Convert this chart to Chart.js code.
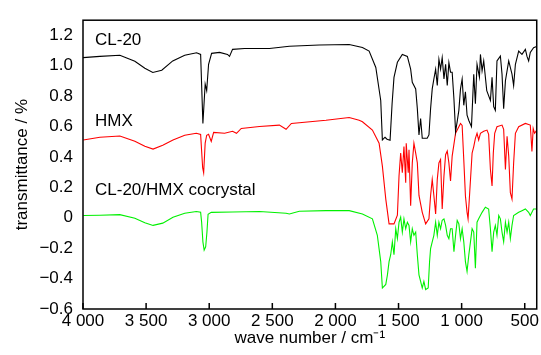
<!DOCTYPE html>
<html>
<head>
<meta charset="utf-8">
<script src="https://cdn.jsdelivr.net/npm/chart.js@4.4.0/dist/chart.umd.min.js"></script>
<style>
  html, body { margin: 0; padding: 0; background: #fff; }
  #wrap { width: 541px; height: 355px; }
</style>
</head>
<body>
<div id="wrap"><canvas id="irChart" width="541" height="355"></canvas></div>
<script>
// wave numbers (cm-1) and transmittance values
var cl20Wn = [4000, 3866, 3708, 3589, 3510, 3447, 3376, 3289, 3194, 3100, 3068, 3050, 3032, 3020, 3005, 2981, 2918, 2855, 2839, 2815, 2720, 2523, 2365, 2128, 1891, 1786, 1733, 1680, 1641, 1628, 1607, 1591, 1567, 1551, 1536, 1509, 1470, 1430, 1404, 1391, 1364, 1351, 1338, 1325, 1312, 1273, 1259, 1246, 1233, 1220, 1206, 1193, 1180, 1167, 1154, 1140, 1127, 1114, 1101, 1088, 1075, 1061, 1048, 1035, 1022, 1009, 996, 983, 970, 957, 943, 922, 904, 891, 878, 859, 851, 838, 825, 801, 772, 759, 746, 733, 720, 693, 680, 667, 653, 627, 601, 588, 574, 548, 522, 495, 482, 469, 456, 430, 406];
var cl20T = [1.054, 1.062, 1.069, 1.03, 0.984, 0.956, 0.971, 1.032, 1.069, 1.086, 1.075, 0.62, 0.88, 0.837, 1.01, 1.082, 1.088, 1.075, 1.062, 1.108, 1.114, 1.114, 1.129, 1.137, 1.14, 1.121, 1.097, 0.989, 0.772, 0.512, 0.53, 0.517, 0.51, 0.75, 0.924, 1.023, 1.075, 1.062, 0.978, 0.892, 0.848, 0.718, 0.545, 0.653, 0.523, 0.523, 0.545, 0.718, 0.848, 0.913, 0.978, 0.87, 1.043, 0.978, 1.054, 0.913, 1.01, 0.87, 1.021, 0.958, 0.958, 0.782, 0.567, 0.634, 0.707, 0.848, 0.913, 0.74, 0.829, 0.675, 0.64, 0.60, 0.945, 0.75, 1.01, 0.926, 1.075, 0.967, 1.032, 0.837, 0.772, 0.924, 0.731, 0.707, 1.032, 1.064, 0.945, 0.718, 0.902, 1.032, 0.945, 0.87, 1.01, 1.097, 1.075, 1.108, 1.062, 1.032, 1.088, 1.119, 1.127];

var hmxWn = [3998, 3866, 3708, 3589, 3510, 3445, 3368, 3287, 3194, 3102, 3068, 3052, 3044, 3032, 3020, 3005, 2984, 2965, 2878, 2815, 2784, 2746, 2602, 2444, 2391, 2349, 2075, 1891, 1812, 1786, 1707, 1654, 1628, 1601, 1575, 1536, 1509, 1496, 1483, 1470, 1457, 1443, 1439, 1423, 1417, 1404, 1391, 1378, 1364, 1351, 1338, 1312, 1285, 1259, 1246, 1233, 1220, 1206, 1193, 1180, 1167, 1154, 1140, 1127, 1114, 1101, 1088, 1075, 1048, 1009, 996, 983, 970, 957, 949, 936, 917, 904, 891, 878, 865, 851, 825, 799, 786, 772, 759, 749, 738, 720, 680, 667, 653, 640, 627, 614, 601, 588, 574, 548, 495, 456, 443, 433, 422, 406];
var hmxT = [0.512, 0.53, 0.538, 0.504, 0.471, 0.452, 0.478, 0.512, 0.543, 0.556, 0.549, 0.329, 0.296, 0.491, 0.543, 0.549, 0.502, 0.562, 0.556, 0.569, 0.556, 0.588, 0.601, 0.61, 0.582, 0.621, 0.642, 0.66, 0.642, 0.632, 0.577, 0.491, 0.34, 0.123, -0.04, -0.04, 0.017, 0.277, 0.426, 0.296, 0.469, 0.231, 0.491, 0.296, 0.447, 0.08, 0.361, 0.491, 0.426, 0.361, 0.147, 0.036, -0.04, -0.007, 0.147, 0.253, 0.147, 0.025, 0.253, 0.361, 0.383, 0.058, 0.277, 0.415, 0.439, 0.361, 0.242, 0.406, 0.556, 0.621, 0.608, 0.382, 0.145, 0.036, -0.007, 0.166, 0.426, 0.469, 0.523, 0.556, 0.512, 0.556, 0.569, 0.577, 0.549, 0.318, 0.21, 0.426, 0.556, 0.599, 0.61, 0.582, 0.318, 0.536, 0.406, 0.166, 0.123, 0.361, 0.556, 0.599, 0.621, 0.61, 0.437, 0.588, 0.556, 0.575];

var cocWn = [3998, 3866, 3708, 3589, 3510, 3445, 3368, 3287, 3194, 3102, 3068, 3060, 3050, 3040, 3028, 3018, 3009, 2984, 2815, 2602, 2391, 2365, 2286, 2075, 1891, 1786, 1707, 1668, 1641, 1628, 1601, 1588, 1575, 1562, 1549, 1536, 1522, 1509, 1496, 1483, 1470, 1457, 1443, 1430, 1417, 1404, 1391, 1378, 1364, 1351, 1338, 1325, 1312, 1299, 1285, 1265, 1254, 1246, 1233, 1220, 1206, 1193, 1180, 1167, 1154, 1140, 1127, 1114, 1101, 1088, 1075, 1061, 1048, 1035, 1022, 1009, 996, 983, 970, 957, 943, 930, 917, 904, 891, 878, 865, 838, 812, 786, 772, 759, 746, 733, 720, 706, 693, 680, 667, 653, 640, 627, 614, 601, 588, 548, 522, 495, 469, 456, 430, 406];
var cocT = [0.015, 0.017, 0.021, -0.003, -0.032, -0.05, -0.035, 0.004, 0.03, 0.041, 0.036, -0.029, -0.158, -0.212, -0.191, -0.094, 0.023, 0.036, 0.038, 0.041, 0.03, 0.025, 0.043, 0.047, 0.047, 0.025, -0.007, -0.115, -0.288, -0.462, -0.438, -0.375, -0.288, -0.243, -0.158, -0.243, -0.072, -0.137, -0.029, 0.004, -0.094, -0.007, -0.072, -0.029, -0.05, -0.158, -0.072, -0.115, -0.094, -0.245, -0.375, -0.418, -0.462, -0.418, -0.472, -0.462, -0.288, -0.202, -0.158, -0.115, -0.029, -0.115, -0.029, -0.072, -0.016, -0.007, -0.05, -0.115, -0.137, -0.072, -0.072, -0.223, -0.115, -0.018, -0.04, -0.137, -0.072, -0.158, -0.288, -0.353, -0.243, -0.158, -0.072, -0.094, -0.332, -0.029, -0.007, 0.036, 0.069, 0.058, -0.072, -0.223, -0.094, -0.05, -0.115, 0.015, -0.007, -0.094, -0.158, -0.029, -0.094, -0.029, -0.137, -0.05, 0.015, 0.036, 0.047, 0.058, 0.036, 0.015, 0.058, 0.058];

var xTicks = [4000, 3500, 3000, 2500, 2000, 1500, 1000, 500];
var yTicks = [-0.6, -0.4, -0.2, 0, 0.2, 0.4, 0.6, 0.8, 1.0, 1.2];
var names = ["CL-20", "HMX", "CL-20/HMX cocrystal"];
var nameAt = [[3905, 1.17], [3905, 0.635], [3905, 0.183]];

function pairs(xs, ys) {
    var out = [];
    for (var i = 0; i < xs.length; i++) out.push({ x: xs[i], y: ys[i] });
    return out;
}

var fontFamily = "'Liberation Sans', Arial, sans-serif";
var fontSize = 17;

var framePlugin = {
    id: 'frame',
    afterDatasetsDraw: function (chart) {
        var ctx = chart.ctx, a = chart.chartArea;
        var xs = chart.scales.x, ys = chart.scales.y;
        ctx.save();
        ctx.strokeStyle = '#000';
        ctx.lineWidth = 1.5;
        ctx.strokeRect(a.left, a.top, a.right - a.left, a.bottom - a.top);
        ctx.beginPath();
        xTicks.forEach(function (v) {
            var px = xs.getPixelForValue(v);
            ctx.moveTo(px, a.bottom);
            ctx.lineTo(px, a.bottom - 6);
        });
        ctx.stroke();
        ctx.fillStyle = '#000';
        ctx.font = fontSize + 'px ' + fontFamily;
        ctx.textBaseline = 'middle';
        ctx.textAlign = 'left';
        names.forEach(function (n, i) {
            ctx.fillText(n, xs.getPixelForValue(nameAt[i][0]), ys.getPixelForValue(nameAt[i][1]));
        });
        ctx.restore();
    }
};

document.addEventListener("DOMContentLoaded", function () {
    var ctx = document.getElementById("irChart").getContext("2d");
    new Chart(ctx, {
        type: 'line',
        data: {
            datasets: [{
                label: names[0],
                data: pairs(cl20Wn, cl20T),
                borderColor: '#000000',
            }, {
                label: names[1],
                data: pairs(hmxWn, hmxT),
                borderColor: '#ff0000',
            }, {
                label: names[2],
                data: pairs(cocWn, cocT),
                borderColor: '#00f000',
            }]
        },
        options: {
            responsive: false,
            animation: false,
            layout: { padding: { left: 0, top: 9, right: 3, bottom: 0 } },
            elements: {
                line: { borderWidth: 1.1, tension: 0, fill: false },
                point: { radius: 0 }
            },
            plugins: {
                legend: { display: false },
                tooltip: { enabled: false }
            },
            scales: {
                x: {
                    type: 'linear',
                    reverse: true,
                    min: 405,
                    max: 4000,
                    afterFit: function (s) { s.height = 46; },
                    afterBuildTicks: function (s) {
                        s.ticks = xTicks.map(function (v) { return { value: v }; });
                    },
                    grid: { display: false, drawTicks: false },
                    border: { display: false },
                    ticks: {
                        padding: 2,
                        maxRotation: 0,
                        color: '#000',
                        font: { family: fontFamily, size: fontSize },
                        callback: function (v) {
                            if (v >= 1000) return Math.floor(v / 1000) + ' ' + String(v % 1000).padStart(3, '0');
                            return String(v);
                        }
                    },
                    title: {
                        display: true,
                        text: 'wave number / cm\u207B\u00B9',
                        color: '#000',
                        font: { family: fontFamily, size: fontSize },
                        padding: { top: 0, bottom: 6 }
                    }
                },
                y: {
                    type: 'linear',
                    min: -0.6,
                    max: 1.3,
                    afterFit: function (s) { s.width = 83; },
                    afterBuildTicks: function (s) {
                        s.ticks = yTicks.map(function (v) { return { value: v }; });
                    },
                    grid: { display: false, drawTicks: false },
                    border: { display: false },
                    ticks: {
                        padding: 10,
                        color: '#000',
                        font: { family: fontFamily, size: fontSize },
                        callback: function (v) {
                            if (Math.abs(v) < 1e-9) return '0';
                            return (v < 0 ? '\u2212' : '') + Math.abs(v).toFixed(1);
                        }
                    },
                    title: {
                        display: true,
                        text: 'transmittance / %',
                        color: '#000',
                        font: { family: fontFamily, size: fontSize },
                        padding: { top: 12, bottom: 0 }
                    }
                }
            }
        },
        plugins: [framePlugin]
    });
});
</script>
</body>
</html>
